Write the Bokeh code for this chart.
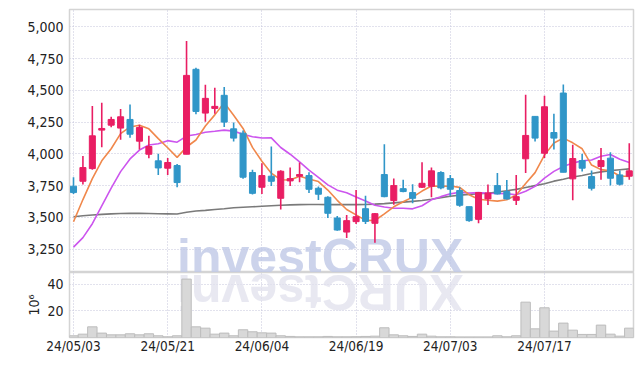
from bokeh.plotting import figure
from bokeh.models import ColumnDataSource, FixedTicker, NumeralTickFormatter, Range1d
from bokeh.layouts import column
from bokeh.embed import file_html
from bokeh.resources import INLINE
from bokeh.core.properties import value
import math

# ---------------- data ----------------
dates = ["24/05/03", "24/05/07", "24/05/08", "24/05/09", "24/05/10", "24/05/13", "24/05/14", "24/05/16", "24/05/17", "24/05/20",
         "24/05/21", "24/05/22", "24/05/23", "24/05/24", "24/05/27", "24/05/28", "24/05/29", "24/05/30", "24/05/31", "24/06/03",
         "24/06/04", "24/06/05", "24/06/07", "24/06/10", "24/06/11", "24/06/12", "24/06/13", "24/06/14", "24/06/17", "24/06/18",
         "24/06/19", "24/06/20", "24/06/21", "24/06/24", "24/06/25", "24/06/26", "24/06/27", "24/06/28", "24/07/01", "24/07/02",
         "24/07/03", "24/07/04", "24/07/05", "24/07/08", "24/07/09", "24/07/10", "24/07/11", "24/07/12", "24/07/15", "24/07/16",
         "24/07/17", "24/07/18", "24/07/19", "24/07/22", "24/07/23", "24/07/24", "24/07/25", "24/07/26", "24/07/29", "24/07/30"]

opens = [3745, 3784, 3884, 4187, 4226, 4203, 4271, 4100, 3997, 3945,
         3887, 3908, 3997, 4666, 4321, 4358, 4461, 4197, 4163, 3853,
         3737, 3824, 3650, 3787, 3824, 3829, 3729, 3658, 3495, 3384,
         3466, 3568, 3453, 3837, 3632, 3726, 3695, 3737, 3745, 3853,
         3805, 3711, 3584, 3484, 3645, 3750, 3703, 3634, 3961, 4295,
         4005, 4168, 4479, 3803, 3947, 3821, 3900, 3966, 3834, 3824]
highs = [3816, 3984, 4376, 4403, 4292, 4353, 4389, 4229, 4142, 4000,
         3968, 3921, 4889, 4679, 4545, 4521, 4526, 4247, 4184, 3874,
         3926, 4058, 3870, 3892, 3932, 3855, 3742, 3666, 3511, 3518,
         3716, 3671, 3535, 4076, 3805, 3797, 3761, 3934, 3892, 3863,
         3834, 3737, 3584, 3700, 3758, 3850, 3795, 3834, 4466, 4295,
         4458, 4316, 4547, 4071, 4000, 3868, 4047, 4013, 3868, 4084]
lows = [3684, 3758, 3874, 4053, 4210, 4111, 4126, 4034, 3966, 3834,
        3834, 3737, 3997, 4311, 4253, 4316, 4211, 4097, 3803, 3679,
        3684, 3747, 3561, 3747, 3776, 3692, 3637, 3495, 3395, 3337,
        3447, 3447, 3300, 3658, 3600, 3697, 3611, 3732, 3658, 3721,
        3666, 3584, 3466, 3453, 3597, 3679, 3640, 3597, 3850, 4097,
        3968, 4034, 3855, 3634, 3861, 3711, 3797, 3750, 3750, 3797]
closes = [3695, 3892, 4142, 4200, 4271, 4292, 4155, 4208, 4058, 3889,
          3932, 3774, 4618, 4334, 4437, 4374, 4250, 4124, 3816, 3689,
          3829, 3784, 3863, 3805, 3837, 3721, 3682, 3532, 3400, 3474,
          3505, 3468, 3529, 3663, 3750, 3703, 3650, 3768, 3866, 3732,
          3721, 3595, 3474, 3695, 3692, 3684, 3645, 3663, 4145, 4124,
          4371, 4124, 3855, 3963, 3887, 3729, 3947, 3808, 3761, 3866]

ma_short = [3465, 3640, 3805, 3945, 4040, 4159, 4212, 4225, 4197, 4120,
            4048, 3972, 4054, 4109, 4219, 4307, 4403, 4304, 4200, 4051,
            3942, 3848, 3796, 3794, 3824, 3802, 3782, 3715, 3634, 3562,
            3519, 3476, 3475, 3528, 3583, 3623, 3659, 3707, 3747, 3744,
            3747, 3736, 3678, 3643, 3635, 3628, 3638, 3676, 3766, 3852,
            3990, 4085, 4124, 4087, 4040, 3912, 3876, 3867, 3826, 3822]
ma_mid = [3265, 3340, 3450, 3590, 3730, 3860, 3960, 4030, 4070, 4080,
          4104, 4092, 4140, 4153, 4170, 4178, 4187, 4179, 4155, 4135,
          4125, 4126, 4050, 3997, 3937, 3872, 3815, 3756, 3714, 3693,
          3660, 3629, 3595, 3581, 3572, 3571, 3567, 3591, 3638, 3663,
          3685, 3698, 3692, 3695, 3690, 3688, 3687, 3677, 3705, 3744,
          3809, 3862, 3900, 3927, 3946, 3951, 3981, 3995, 3957, 3931]
ma_long = [3505, 3512, 3518, 3523, 3527, 3530, 3531, 3531, 3530, 3528,
           3527, 3526, 3540, 3550, 3555, 3562, 3568, 3575, 3579, 3583,
           3587, 3591, 3595, 3598, 3600, 3601, 3601, 3600, 3600, 3600,
           3600, 3601, 3604, 3608, 3614, 3620, 3626, 3632, 3643, 3655,
           3666, 3675, 3681, 3686, 3690, 3700, 3710, 3720, 3735, 3750,
           3765, 3785, 3800, 3818, 3830, 3845, 3858, 3868, 3875, 3882]

volumes = [1.3, 2.5, 8.0, 3.3, 2.0, 2.0, 2.8, 2.0, 2.8, 1.3,
           0.5, 1.3, 43.8, 8.0, 7.0, 2.5, 3.3, 1.3, 5.8, 4.3,
           3.5, 3.3, 1.3, 0.8, 0.5, 0.5, 0.5, 0.8, 0.5, 0.5,
           0.6, 0.8, 1.0, 7.3, 2.0, 1.3, 0.8, 2.5, 1.0, 0.5,
           0.5, 0.4, 0.4, 0.4, 0.4, 1.3, 0.5, 1.3, 26.5, 6.5,
           22.3, 4.8, 10.8, 5.5, 2.3, 2.3, 9.3, 2.5, 1.0, 7.0]

tick_idx = [0, 10, 20, 30, 40, 50]
tick_labels = ["24/05/03", "24/05/21", "24/06/04", "24/06/19", "24/07/03", "24/07/17"]
price_ticks = [3250, 3500, 3750, 4000, 4250, 4500, 4750, 5000]
volume_ticks = [20, 40]

# ---------------- style ----------------
RED = "#e91e63"
BLUE = "#3096c8"
LABEL_FONT = "'Liberation Sans Narrow', 'DejaVu Sans Condensed', Roboto, sans-serif"
LABEL_COLOR = "#222222"
GRID_COLOR = "#c4c4da"
OUTLINE = "#d4d4d4"

X0, X1 = -0.425, 59.45
FRAME_W = 564
x_range = Range1d(X0, X1)

idx = list(range(len(dates)))
cols = [RED if c >= o else BLUE for o, c in zip(opens, closes)]
src = ColumnDataSource(dict(
    x=idx, high=highs, low=lows,
    top=[max(o, c) for o, c in zip(opens, closes)],
    bot=[min(o, c) for o, c in zip(opens, closes)],
    color=cols, vol=volumes,
    ma_s=ma_short, ma_m=ma_mid, ma_l=ma_long,
))

MAIN_H = 263
Y0, Y1 = 3065.5, 5137
p = figure(frame_width=FRAME_W, frame_height=MAIN_H, x_range=x_range, y_range=Range1d(Y0, Y1),
           output_backend="svg", toolbar_location=None, x_axis_location=None,
           min_border_left=69, min_border_right=2, min_border_top=9, min_border_bottom=0,
           background_fill_color="white", border_fill_color="white")
p.outline_line_color = OUTLINE
p.outline_line_width = 1.5

# watermark
WM_FONT = "'Liberation Sans', Arial, sans-serif"
WM_SIZE = 50
WM_SHIFT_PX = 16          # renderer places glyph baseline this far past the anchor
wm_text = "investCRUX"
wm_x = 11.0
main_units_per_px = (Y1 - Y0) / MAIN_H
p.text(x=[wm_x], y=[Y0 + WM_SHIFT_PX * main_units_per_px], text=[wm_text], text_font=value(WM_FONT),
       text_font_size=f"{WM_SIZE}px", text_font_style="bold", text_color="#bfc8e6",
       text_alpha=0.8, text_align="left", text_baseline="alphabetic")

p.yaxis.ticker = FixedTicker(ticks=price_ticks)
p.yaxis.formatter = NumeralTickFormatter(format="0,0")
p.yaxis.major_label_text_font = LABEL_FONT
p.yaxis.major_label_text_font_size = "14px"
p.yaxis.major_label_text_color = LABEL_COLOR
p.yaxis.axis_line_color = None
p.yaxis.major_tick_line_color = None
p.yaxis.minor_tick_line_color = None
p.yaxis.major_tick_out = 0
p.yaxis.major_label_standoff = 6

for g in (p.xgrid, p.ygrid):
    g.grid_line_color = GRID_COLOR
    g.grid_line_dash = "1 2"
    g.grid_line_width = 1
p.xgrid.ticker = FixedTicker(ticks=tick_idx)
p.ygrid.ticker = FixedTicker(ticks=price_ticks)

# moving averages
p.line("x", "ma_l", source=src, line_color="#7a7a7a", line_width=1.6)
p.line("x", "ma_m", source=src, line_color="#cc55ee", line_width=1.6)
p.line("x", "ma_s", source=src, line_color="#f0884c", line_width=1.6)

# candles
p.segment(x0="x", y0="low", x1="x", y1="high", source=src, line_color="color", line_width=1.6)
p.vbar(x="x", top="top", bottom="bot", width=0.64, source=src,
       fill_color="color", line_color="color", line_width=1)

# ---------------- volume ----------------
VOL_H = 65
V1 = 48.75
pv = figure(frame_width=FRAME_W, frame_height=VOL_H, x_range=x_range, y_range=Range1d(0, V1),
            output_backend="svg", toolbar_location=None,
            min_border_left=69, min_border_right=2, min_border_top=0, min_border_bottom=2,
            background_fill_color="white", border_fill_color="white")
pv.outline_line_color = OUTLINE
pv.outline_line_width = 1.5

# mirrored watermark, one glyph per character
adv = {"i": 278, "n": 611, "v": 556, "e": 556, "s": 556, "t": 333,
       "C": 722, "R": 722, "U": 722, "X": 667}
px_per_unit = FRAME_W / (X1 - X0)
cx, chars, cum = [], [], 0.0
for ch in wm_text:
    w = adv[ch] * WM_SIZE / 1000.0
    cx.append(wm_x + (cum + w / 2) / px_per_unit)
    chars.append(ch)
    cum += w
vol_units_per_px = V1 / VOL_H
refl_y = V1 - (3 + WM_SHIFT_PX) * vol_units_per_px
pv.text(x=cx, y=[refl_y] * len(cx), text=chars, angle=math.pi, text_font=value(WM_FONT),
        text_font_size=f"{WM_SIZE}px", text_font_style="bold", text_color="#e0e0ec",
        text_alpha=0.75, text_align="center", text_baseline="alphabetic")

pv.vbar(x="x", top="vol", bottom=0, width=1.0, source=src,
        fill_color="#d8d8d8", line_color="#bdbdbd", line_width=1)

for g in (pv.xgrid, pv.ygrid):
    g.grid_line_color = GRID_COLOR
    g.grid_line_dash = "1 2"
    g.grid_line_width = 1
pv.xgrid.ticker = FixedTicker(ticks=tick_idx)
pv.ygrid.ticker = FixedTicker(ticks=volume_ticks)

pv.xaxis.ticker = FixedTicker(ticks=tick_idx)
pv.xaxis.major_label_overrides = {t: lab for t, lab in zip(tick_idx, tick_labels)}
pv.yaxis.ticker = FixedTicker(ticks=volume_ticks)
pv.yaxis.axis_label = "10\u2076"
pv.yaxis.axis_label_text_font = LABEL_FONT
pv.yaxis.axis_label_text_font_size = "14px"
pv.yaxis.axis_label_text_font_style = "normal"
pv.yaxis.axis_label_text_color = LABEL_COLOR
pv.yaxis.axis_label_standoff = 2
for ax in (pv.xaxis, pv.yaxis):
    ax.major_label_text_font = LABEL_FONT
    ax.major_label_text_color = LABEL_COLOR
    ax.axis_line_color = None
    ax.major_tick_line_color = None
    ax.minor_tick_line_color = None
    ax.major_tick_out = 0
pv.yaxis.major_label_text_font_size = "14px"
pv.xaxis.major_label_text_font_size = "13.5px"
pv.yaxis.major_label_standoff = 6
pv.xaxis.major_label_standoff = 0

layout = column(p, pv, spacing=0)
open("out.html", "w").write(file_html(layout, INLINE))
